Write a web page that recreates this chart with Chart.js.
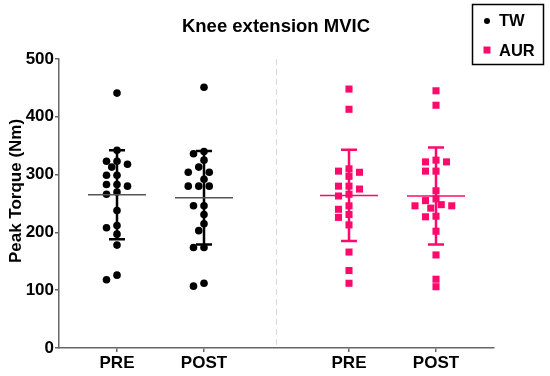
<!DOCTYPE html>
<html>
<head>
<meta charset="utf-8">
<script src="https://cdn.jsdelivr.net/npm/chart.js@4"></script>
<style>
  html, body { margin: 0; padding: 0; background: #fff; }
  #wrap { width: 550px; height: 376px; position: relative; }
</style>
</head>
<body>
<div id="wrap"><canvas id="c" width="550" height="376"></canvas></div>
<script>
// ---- data ----
const chartTitle = "Knee extension MVIC";
const yTitle = "Peak Torque (Nm)";
const categories = ["PRE", "POST", "PRE", "POST"];
const categoryPos = [1, 2, 11/3, 14/3];
const groupNames = ["TW", "AUR"];
const yTicks = [0, 100, 200, 300, 400, 500];

const twPre  = [441, 342, 323, 323, 318, 313, 299, 299, 283, 283, 280, 270, 266, 238, 212, 208, 197, 178, 126, 118];
const twPost = [451, 340, 336, 325, 313, 304, 304, 292, 280, 280, 280, 246, 246, 231, 215, 203, 174, 174, 112, 107];
const aurPre = [448, 413, 310, 306, 304, 297, 280, 280, 275, 266, 263, 246, 240, 231, 226, 213, 166, 134, 112];
const aurPost= [445, 420, 325, 322, 322, 306, 306, 272, 258, 255, 248, 246, 246, 242, 228, 227, 202, 161, 119, 106];

const means = [265, 260, 264, 263];
const sds   = [77, 81, 79, 84];

const BLACK = '#000000';
const PINK = '#ff0a6c';
const groupColors = [BLACK, BLACK, PINK, PINK];

// ---- beeswarm offsets (deterministic, based on values) ----
const PX_PER_X = 87, PX_PER_Y = 0.578, DIAM = 7.5, STEP = 5.25;
function swarm(values, center) {
  const idx = values.map((v, i) => i).sort((a, b) => values[b] - values[a]);
  const placed = [];
  const out = new Array(values.length);
  idx.forEach(i => {
    const v = values[i];
    for (let k = 0; k < 20; k++) {
      const m = Math.ceil(k / 2) * (k % 2 === 1 ? -1 : 1);
      const off = m * STEP;
      const ok = placed.every(p => {
        const dx = off - p.off, dy = (v - p.v) * PX_PER_Y;
        return dx * dx + dy * dy >= DIAM * DIAM - 0.01;
      });
      if (ok) { placed.push({off, v}); out[i] = {x: center + off / PX_PER_X, y: v}; break; }
    }
  });
  return out;
}

const twData = [...swarm(twPre, categoryPos[0]), ...swarm(twPost, categoryPos[1])];
const aurData = [...swarm(aurPre, categoryPos[2]), ...swarm(aurPost, categoryPos[3])];

const FONT = 'Arial, "Liberation Sans", Helvetica, sans-serif';

const decor = {
  id: 'decor',
  beforeDatasetsDraw(chart) {
    const {ctx, chartArea, scales: {x}} = chart;
    const dx = x.getPixelForValue((categoryPos[1] + categoryPos[2]) / 2);
    ctx.save();
    ctx.strokeStyle = '#d8d8d8';
    ctx.lineWidth = 1;
    ctx.setLineDash([6, 4]);
    ctx.beginPath();
    ctx.moveTo(Math.round(dx) + 0.5, chartArea.top);
    ctx.lineTo(Math.round(dx) + 0.5, chartArea.bottom);
    ctx.stroke();
    ctx.restore();
  },
  afterDatasetsDraw(chart) {
    const {ctx, scales: {x, y}} = chart;
    ctx.save();
    categoryPos.forEach((pos, i) => {
      const cx = x.getPixelForValue(pos);
      const my = y.getPixelForValue(means[i]);
      const ty = y.getPixelForValue(means[i] + sds[i]);
      const by = y.getPixelForValue(means[i] - sds[i]);
      const col = groupColors[i];
      ctx.strokeStyle = col;
      ctx.lineWidth = 2.5;
      ctx.beginPath();
      ctx.moveTo(cx, ty); ctx.lineTo(cx, by);
      ctx.moveTo(cx - 8, ty); ctx.lineTo(cx + 8, ty);
      ctx.moveTo(cx - 8, by); ctx.lineTo(cx + 8, by);
      ctx.stroke();
      ctx.strokeStyle = i < 2 ? '#555555' : PINK;
      ctx.lineWidth = 1.5;
      ctx.beginPath();
      ctx.moveTo(cx - 29, my); ctx.lineTo(cx + 29, my);
      ctx.stroke();
    });
    ctx.restore();
  },
  afterDraw(chart) {
    const {ctx} = chart;
    ctx.save();
    ctx.fillStyle = '#000';
    ctx.font = 'bold 18.5px ' + FONT;
    ctx.textAlign = 'center';
    ctx.textBaseline = 'middle';
    ctx.fillText(chartTitle, 276, 27);
    ctx.save();
    ctx.translate(16, 191);
    ctx.rotate(-Math.PI / 2);
    ctx.font = 'bold 17px ' + FONT;
    ctx.fillText(yTitle, 0, 0);
    ctx.restore();
    ctx.strokeStyle = '#000';
    ctx.lineWidth = 1.5;
    ctx.strokeRect(472.5, 4.5, 71, 60);
    ctx.fillStyle = BLACK;
    ctx.beginPath(); ctx.arc(487, 21, 3, 0, Math.PI * 2); ctx.fill();
    ctx.fillStyle = PINK;
    ctx.fillRect(483.5, 46.5, 7, 7);
    ctx.fillStyle = '#000';
    ctx.font = 'bold 16.5px ' + FONT;
    ctx.textAlign = 'left';
    ctx.fillText(groupNames[0], 499, 21);
    ctx.fillText(groupNames[1], 499, 51);
    ctx.restore();
  }
};

new Chart(document.getElementById('c'), {
  type: 'scatter',
  data: {
    datasets: [
      { label: groupNames[0], data: twData, pointStyle: 'circle', pointRadius: 3.8, pointHoverRadius: 3.8,
        backgroundColor: BLACK, borderWidth: 0 },
      { label: groupNames[1], data: aurData, pointStyle: 'rect', pointRadius: 5, pointHoverRadius: 5,
        backgroundColor: PINK, borderWidth: 0 }
    ]
  },
  options: {
    responsive: false,
    animation: false,
    events: [],
    layout: { padding: { top: 59, right: 56, left: 0, bottom: 0 } },
    plugins: { legend: { display: false }, tooltip: { enabled: false }, title: { display: false } },
    scales: {
      x: {
        type: 'linear',
        min: 1/3, max: 16/3,
        afterFit(s) { s.height = 28; },
        afterBuildTicks(s) { s.ticks = categoryPos.map(v => ({ value: v })); },
        ticks: {
          autoSkip: false, maxRotation: 0, padding: 1, color: '#000',
          font: { family: FONT, size: 17, weight: 'bold' },
          callback(v) { const i = categoryPos.findIndex(p => Math.abs(p - v) < 1e-6); return i >= 0 ? categories[i] : ''; }
        },
        grid: { drawOnChartArea: false, drawTicks: true, tickLength: 4, color: '#666', lineWidth: 1.5 },
        border: { display: true, color: '#666', width: 1.5 }
      },
      y: {
        min: 0, max: 500,
        afterFit(s) { s.width = 59; },
        afterBuildTicks(s) { s.ticks = yTicks.map(v => ({ value: v })); },
        ticks: {
          padding: 1, color: '#000',
          font: { family: FONT, size: 17, weight: 'bold' }
        },
        grid: { drawOnChartArea: false, drawTicks: true, tickLength: 4, color: '#666', lineWidth: 1.5 },
        border: { display: true, color: '#666', width: 1.5 }
      }
    }
  },
  plugins: [decor]
});
</script>
</body>
</html>
